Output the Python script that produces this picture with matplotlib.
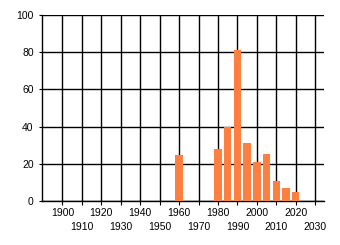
import matplotlib
matplotlib.use("Agg")
import matplotlib.pyplot as plt
from matplotlib.ticker import FixedLocator

years = [1960, 1980, 1985, 1990, 1995, 2000, 2005, 2010, 2015, 2020]
values = [24.5, 28, 40, 81, 31, 21, 25.5, 11, 7, 4.6]
major_ticks = [1900, 1920, 1940, 1960, 1980, 2000, 2020]
minor_ticks = [1910, 1930, 1950, 1970, 1990, 2010, 2030]
y_ticks = [0, 20, 40, 60, 80, 100]

plt.rcParams['font.family'] = ['Liberation Sans', 'DejaVu Sans']

fig = plt.figure(figsize=(3.4, 2.45), dpi=100)
ax = fig.add_axes([42/340, 1-201/245, (324-42)/340, (201-15)/245])

ax.bar(years, values, width=3.8, color='#FF7F40', zorder=3)

ax.set_xlim(1889.5, 2034.5)
ax.set_ylim(0, 100)

ax.xaxis.set_major_locator(FixedLocator(major_ticks))
ax.xaxis.set_minor_locator(FixedLocator(minor_ticks))
ax.set_xticklabels([str(t) for t in major_ticks])
ax.set_xticklabels([str(t) for t in minor_ticks], minor=True)
ax.set_yticks(y_ticks)
ax.set_yticklabels([str(t) for t in y_ticks])

ax.tick_params(axis='x', which='major', length=3, width=0.8, pad=2, labelsize=7.5, color='black')
ax.tick_params(axis='x', which='minor', length=3, width=0.8, pad=12, labelsize=7.5, color='black')
ax.tick_params(axis='y', length=2, width=0.8, pad=4, labelsize=7.5, color='black')

ax.grid(True, which='both', axis='x', color='black', linewidth=1.0, zorder=1)
ax.grid(True, which='major', axis='y', color='black', linewidth=1.0, zorder=1)
ax.set_axisbelow(True)

ax.spines['right'].set_visible(False)
ax.spines['top'].set_visible(False)
for s in ['left', 'bottom']:
    ax.spines[s].set_color('black')
    ax.spines[s].set_linewidth(1.0)

fig.savefig('out.png', dpi=100)
